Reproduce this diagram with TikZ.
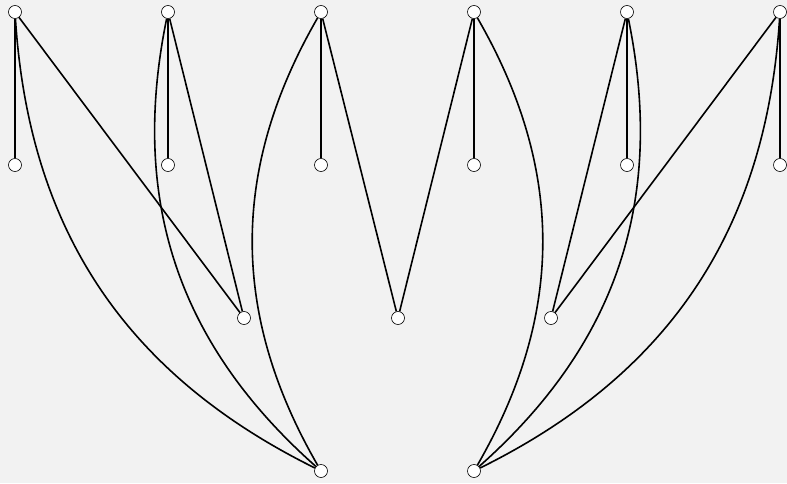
\documentclass[tikz,border=0pt]{standalone}
\usepackage{xcolor}
\usepackage{tikz}
\usetikzlibrary{
  positioning,
  backgrounds
}
\definecolor{gBack}{HTML}{F2F2F2}

\begin{document}
\begin{tikzpicture}[x=1pt, y=1pt,
  vtx/.style={circle, draw=black, fill=white, line width=0.6pt, minimum size=13pt, inner sep=0pt},
  link/.style={draw=black, line width=1.6pt}]
  \useasboundingbox (0,0) rectangle (787,483);
  % vertices
  \foreach \i/\x in {1/15, 2/168, 3/321, 4/474, 5/627, 6/780}{
    \node[vtx] (t\i) at (\x,471) {};
    \node[vtx] (m\i) at (\x,318) {};
  }
  \foreach \i/\x in {1/244, 2/398, 3/551}{
    \node[vtx] (c\i) at (\x,165) {};
  }
  \node[vtx] (b1) at (321,12) {};
  \node[vtx] (b2) at (474,12) {};
  \begin{scope}[on background layer]
    \fill[gBack] (0,0) rectangle (787,483);
    \foreach \i in {1,...,6}{
      \draw[link] (t\i) -- (m\i);
    }
    \foreach \a/\c in {1/1, 2/1, 3/2, 4/2, 5/3, 6/3}{
      \draw[link] (t\a) -- (c\c);
    }
    \foreach \a in {1,2,3}{
      \draw[link] (t\a) to[bend right=30] (b1);
    }
    \foreach \a in {4,5,6}{
      \draw[link] (t\a) to[bend left=30] (b2);
    }
  \end{scope}
\end{tikzpicture}
\end{document}
